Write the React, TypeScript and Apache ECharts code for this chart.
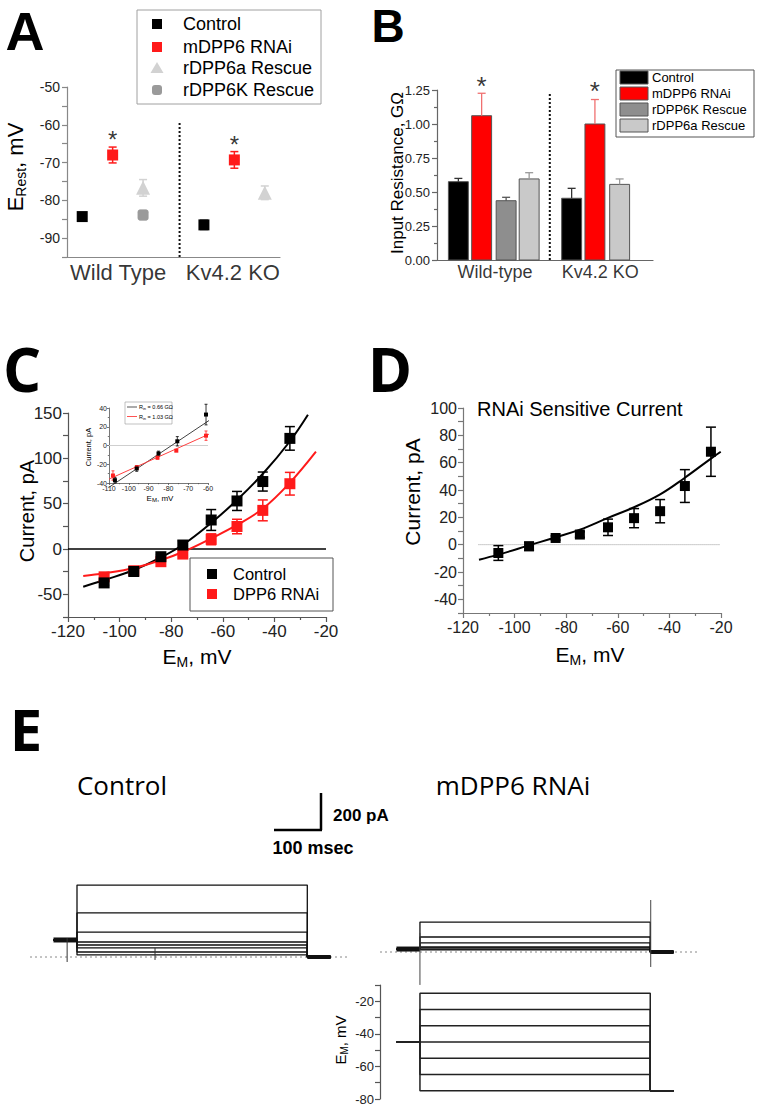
import React, { useEffect, useRef } from "react";
import * as echarts from "echarts";

const FONT = '"Liberation Sans", Arial, Helvetica, sans-serif';
const LFONT = '"Open Sans", "Liberation Sans", sans-serif';

// ---------- Panel A: resting potential ----------
const aGroups = ["Wild Type", "Kv4.2 KO"];
const aGroupX = [1.68, 5.45];
const aNames = ["Control", "mDPP6 RNAi", "rDPP6a Rescue", "rDPP6K Rescue"];
const aColors = ["#000000", "#ff1a1a", "#d2d2d2", "#9a9a9a"];
const aSymbols = ["rect", "rect", "triangle", "roundRect"];
const aX = [[0.5, 4.5], [1.5, 5.5], [2.5, 6.5], [2.5]];
const aY = [[-84.3, -86.5], [-68.0, -69.3], [-76.7, -78.0], [-83.9]];
const aErr = [[0.8, 1.2], [2.1, 2.2], [2.2, 1.8], [1.2]];
const aStarX = [1.5, 5.5];
const aStarY = [-62.7, -63.8];
const aSepX = [3.7, 3.7];
const aSepY = [-95, -59.5];

// ---------- Panel B: input resistance ----------
const bGroups = ["Wild-type", "Kv4.2 KO"];
const bGroupX = [2.42, 6.8];
const bNames = ["Control", "mDPP6 RNAi", "rDPP6K Rescue", "rDPP6a Rescue"];
const bColors = ["#000000", "#ff0000", "#8e8e8e", "#c9c9c9"];
const bErrColors = ["#333333", "#f07070", "#555555", "#9a9a9a"];
const bX = [0.89, 1.86, 2.88, 3.84, 5.61, 6.58, 7.61];
const bKind = [0, 1, 2, 3, 0, 1, 3];
const bVal = [0.576, 1.061, 0.436, 0.596, 0.454, 1.0, 0.556];
const bErr = [0.024, 0.165, 0.025, 0.046, 0.073, 0.18, 0.04];
const bStarX = [1.86, 6.58];
const bStarY = [1.316, 1.28];
const bSepX = [4.7, 4.7];
const bSepY = [0, 1.235];
const bBarW = 0.83;

// ---------- Panel C: I-V ----------
const cNames = ["Control", "DPP6 RNAi"];
const cX = [-106, -94.5, -84, -75.5, -64.5, -54.5, -44.5, -34];
const cCtrlY = [-37.4, -24.8, -8.5, 4.4, 32, 53, 74.4, 122];
const cCtrlErr = [2.5, 2.5, 2, 4.5, 11.5, 10.5, 10.5, 13];
const cRnaiY = [-30.7, -24, -14, -5.6, 10.7, 24.8, 42.6, 72];
const cRnaiErr = [3, 2, 2, 2, 6, 8, 11.5, 12.5];
const cCtrlFitX = [-114.1, -105.9, -94.4, -84.2, -75.3, -64.4, -54.5, -44.3, -34.2, -27];
const cCtrlFitY = [-41.6, -34.2, -23.2, -9.5, 5.0, 29, 54, 83.5, 118, 148];
const cRnaiFitX = [-114.1, -105.9, -94.4, -84.2, -75.3, -64.4, -54.5, -44.3, -34.2, -23.9];
const cRnaiFitY = [-29.8, -26.8, -21.0, -12.5, -3, 11.8, 26.5, 44.9, 72.5, 107.4];
const cZeroX = [-120, -20];

// inset of C
const iCtrlX = [-107, -96, -85, -75.5, -61];
const iCtrlY = [-37, -24.5, -8.5, 4.5, 33];
const iCtrlErr = [3, 3, 2.5, 5, 11];
const iRnaiX = [-108, -96, -85.5, -76, -61];
const iRnaiY = [-32, -23.5, -13, -5.5, 10.5];
const iRnaiErr = [5, 2, 1.5, 1, 5];
const iCtrlFitX = [-110.3, -59.4];
const iCtrlFitY = [-45, 26.8];
const iRnaiFitX = [-110, -59.4];
const iRnaiFitY = [-35.8, 12.2];
const iZeroX = [-110, -60];
const iLegend = ["R{s|in} = 0.66 GΩ", "R{s|in} = 1.03 GΩ"];

// ---------- Panel D: RNAi sensitive current ----------
const dTitle = "RNAi Sensitive Current";
const dX = [-106.3, -94.4, -84.1, -74.7, -63.8, -53.7, -43.6, -34, -23.9];
const dY = [-6.1, -1.2, 4.9, 7.4, 12.7, 19.4, 24.5, 42.9, 68];
const dErr = [5.4, 3, 1.5, 2, 6, 7, 8.5, 12, 18];
const dFitX = [-113.8, -106.3, -94.4, -84, -74.7, -63.8, -53.7, -43.6, -34, -23.9, -20.1];
const dFitY = [-11, -7.3, -0.5, 5.4, 11, 19.6, 27.4, 36.8, 49, 63, 68];
const dZeroX = [-114, -20.5];

// ---------- Panel E: traces ----------
const eTitles = ["Control", "mDPP6 RNAi"];
const eT = [50, 100, 590, 640]; // ms: holding start, step on, step off, tail end
const eCtrlLevels = [389, 238, 135, 81, 65, 49, 27, 11]; // pA
const eCtrlHold = 92;
const eRnaiLevels = [162, 81, 49, 27, 22, 16, 11];
const eRnaiHold = 16;
const eCtrlArtT = [79, 266];
const eCtrlArtLo = [-27, -16];
const eCtrlArtHi = [102, 49];
const eRnaiArtT = [100, 591];
const eRnaiArtLo = [-178, -81];
const eRnaiArtHi = [103, 281];
const eVLevels = [-15, -25, -35, -45, -55, -65, -75]; // mV
const eVHold = -45;
const eVEnd = -75;
const eBaseCtrl = [0, 680];
const eBaseRnai = [15, 695];

// ---------- helpers ----------
const noSplit = { show: false };

function errSeries(xi: number, xs: number[], ys: number[], lo: number[], hi: number[], color: string, cap: number, width: number, lowCap = true) {
  return {
    type: "custom",
    xAxisIndex: xi,
    yAxisIndex: xi,
    clip: false,
    silent: true,
    z: 3,
    data: xs.map((x, i) => [x, ys[i] - lo[i], ys[i] + hi[i]]),
    renderItem: (_p: any, api: any) => {
      const x = api.value(0);
      const a = api.coord([x, api.value(1)]);
      const b = api.coord([x, api.value(2)]);
      const st = { stroke: color, lineWidth: width };
      const ch: any[] = [
        { type: "line", shape: { x1: a[0], y1: a[1], x2: b[0], y2: b[1] }, style: st },
        { type: "line", shape: { x1: b[0] - cap, y1: b[1], x2: b[0] + cap, y2: b[1] }, style: st },
      ];
      if (lowCap) ch.push({ type: "line", shape: { x1: a[0] - cap, y1: a[1], x2: a[0] + cap, y2: a[1] }, style: st });
      return { type: "group", children: ch };
    },
  };
}

function lineSeries(xi: number, xs: number[], ys: number[], color: string, width: number, extra: any = {}) {
  return {
    type: "line",
    xAxisIndex: xi,
    yAxisIndex: xi,
    data: xs.map((x, i) => [x, ys[i]]),
    symbol: "none",
    showSymbol: false,
    clip: false,
    silent: true,
    lineStyle: { color, width, type: extra.type || "solid" },
    smooth: extra.smooth || false,
    z: extra.z || 2,
  };
}

function scatterSeries(xi: number, xs: number[], ys: number[], color: string, symbol: string, size: number) {
  return {
    type: "scatter",
    xAxisIndex: xi,
    yAxisIndex: xi,
    data: xs.map((x, i) => [x, ys[i]]),
    symbol,
    symbolSize: size,
    itemStyle: { color, opacity: 1 },
    clip: false,
    silent: true,
    z: 4,
  };
}

function textSeries(xi: number, xs: number[], ys: number[], texts: string[], size: number, offset: number[]) {
  return {
    type: "scatter",
    xAxisIndex: xi,
    yAxisIndex: xi,
    data: xs.map((x, i) => ({ value: [x, ys[i]], name: texts[i] })),
    symbol: "circle",
    symbolSize: 1,
    itemStyle: { color: "rgba(0,0,0,0)" },
    clip: false,
    silent: true,
    z: 5,
    label: { show: true, position: "inside", offset, formatter: "{b}", fontSize: size, fontFamily: FONT, color: "#000" },
  };
}

function txt(text: string, x: number, y: number, size: number, o: any = {}) {
  const align = o.align || "center";
  const va = o.va || "middle";
  return {
    type: "text",
    x,
    y,
    z: 100,
    rotation: o.rot || 0,
    silent: true,
    style: {
      text,
      fontSize: size,
      fontFamily: o.family || FONT,
      fontWeight: o.weight || "normal",
      fill: o.color || "#000",
      align,
      verticalAlign: va,
      textAlign: align,
      textVerticalAlign: va,
      rich: o.rich,
    },
  };
}

function subRich(big: number, small: number, shift: number) {
  return {
    a: { fontSize: big, fontFamily: FONT, fill: "#000", color: "#000" },
    b: { fontSize: small, fontFamily: FONT, fill: "#000", color: "#000", padding: [shift, 0, 0, 0] },
    s: { fontSize: small, fontFamily: FONT, fill: "#000", color: "#000", padding: [shift, 0, 0, 0] },
  };
}

function valueAxis(gi: number, min: number, max: number, interval: number | undefined, o: any = {}) {
  return {
    type: "value",
    gridIndex: gi,
    min,
    max,
    interval,
    show: o.show !== false,
    splitLine: noSplit,
    axisLine: { show: true, onZero: false, lineStyle: { color: o.lineColor || "#666", width: o.lineWidth || 1.2 } },
    axisTick: { show: o.ticks !== false, length: o.tickLen || 5, lineStyle: { color: o.lineColor || "#666", width: o.lineWidth || 1.2 } },
    minorTick: { show: !!o.minor, splitNumber: 2, length: (o.tickLen || 5) * 0.6, lineStyle: { color: o.lineColor || "#666", width: o.lineWidth || 1.2 } },
    axisLabel: {
      show: o.labels !== false,
      fontSize: o.fontSize || 14,
      fontFamily: FONT,
      color: o.labelColor || "#222",
      margin: o.margin || 7,
      formatter: o.formatter,
      hideOverlap: false,
    },
  };
}

function buildOption() {
  const series: any[] = [];

  // ---- A ----
  aNames.forEach((n, k) => {
    series.push(errSeries(0, aX[k], aY[k], aErr[k], aErr[k], aColors[k], 4, 1.5));
    series.push(scatterSeries(0, aX[k], aY[k], aColors[k], aSymbols[k], aSymbols[k] === "triangle" ? 14 : 11));
  });
  series.push(lineSeries(0, aSepX, aSepY, "#111", 2, { type: "dotted" }));
  series.push(textSeries(0, aStarX, aStarY, aStarX.map(() => "*"), 24, [0, 5]));
  series.push(textSeries(0, aGroupX, aGroupX.map(() => -95), aGroups, 22, [0, 15]));

  // ---- B ----
  series.push({
    type: "custom",
    xAxisIndex: 1,
    yAxisIndex: 1,
    clip: false,
    silent: true,
    z: 2,
    data: bX.map((x, i) => [x, bVal[i]]),
    renderItem: (p: any, api: any) => {
      const x = api.value(0);
      const v = api.value(1);
      const a = api.coord([x - bBarW / 2, 0]);
      const b = api.coord([x + bBarW / 2, v]);
      return {
        type: "rect",
        shape: { x: a[0], y: b[1], width: b[0] - a[0], height: a[1] - b[1] },
        style: { fill: bColors[bKind[p.dataIndex]], stroke: "#555", lineWidth: 1 },
      };
    },
  });
  bX.forEach((x, i) => {
    series.push(errSeries(1, [x], [bVal[i]], [0], [bErr[i]], bErrColors[bKind[i]], 4, 1.3, false));
  });
  series.push(lineSeries(1, bSepX, bSepY, "#111", 2, { type: "dotted" }));
  series.push(textSeries(1, bStarX, bStarY, bStarX.map(() => "*"), 26, [0, 5]));
  series.push(textSeries(1, bGroupX, bGroupX.map(() => 0), bGroups, 18, [0, 12]));

  // ---- C ----
  series.push(lineSeries(2, cZeroX, [0, 0], "#000", 1.5));
  series.push(lineSeries(2, cCtrlFitX, cCtrlFitY, "#000", 2, { smooth: 0.4 }));
  series.push(lineSeries(2, cRnaiFitX, cRnaiFitY, "#ff1a1a", 2, { smooth: 0.4 }));
  series.push(errSeries(2, cX, cCtrlY, cCtrlErr, cCtrlErr, "#000", 5, 1.5));
  series.push(errSeries(2, cX, cRnaiY, cRnaiErr, cRnaiErr, "#ff1a1a", 5, 1.5));
  series.push(scatterSeries(2, cX, cRnaiY, "#ff1a1a", "rect", 11));
  series.push(scatterSeries(2, cX, cCtrlY, "#000", "rect", 11));

  // ---- C inset ----
  series.push(lineSeries(3, iZeroX, [0, 0], "#cfcfcf", 1));
  series.push(lineSeries(3, iCtrlFitX, iCtrlFitY, "#444", 1));
  series.push(lineSeries(3, iRnaiFitX, iRnaiFitY, "#ff4040", 1));
  series.push(errSeries(3, iCtrlX, iCtrlY, iCtrlErr, iCtrlErr, "#000", 1.5, 0.8));
  series.push(errSeries(3, iRnaiX, iRnaiY, iRnaiErr, iRnaiErr, "#ff2020", 1.5, 0.8));
  series.push(scatterSeries(3, iRnaiX, iRnaiY, "#ff2020", "rect", 4));
  series.push(scatterSeries(3, iCtrlX, iCtrlY, "#000", "rect", 4));

  // ---- D ----
  series.push(lineSeries(4, dZeroX, [0, 0], "#999", 1, { type: "dotted" }));
  series.push(lineSeries(4, dFitX, dFitY, "#000", 2, { smooth: 0.4 }));
  series.push(errSeries(4, dX, dY, dErr, dErr, "#000", 5, 1.5));
  series.push(scatterSeries(4, dX, dY, "#000", "rect", 10));

  // ---- E control traces ----
  series.push(lineSeries(5, eBaseCtrl, [0, 0], "#888", 1, { type: [2, 3] }));
  eCtrlLevels.forEach((L) => {
    series.push(lineSeries(5, [eT[0], eT[1], eT[1], eT[2], eT[2], eT[3]], [eCtrlHold, eCtrlHold, L, L, 0, 0], "#111", 1.3));
  });
  series.push(lineSeries(5, [eT[0], eT[1]], [eCtrlHold, eCtrlHold], "#111", 5));
  series.push(lineSeries(5, [eT[2], eT[3]], [0, 0], "#111", 4));
  eCtrlArtT.forEach((t, i) => {
    series.push(lineSeries(5, [t, t], [eCtrlArtLo[i], eCtrlArtHi[i]], "#333", 1));
  });

  // ---- E RNAi traces ----
  series.push(lineSeries(6, eBaseRnai, [0, 0], "#888", 1, { type: [2, 3] }));
  eRnaiLevels.forEach((L) => {
    series.push(lineSeries(6, [eT[0], eT[1], eT[1], eT[2], eT[2], eT[3]], [eRnaiHold, eRnaiHold, L, L, 0, 0], "#111", 1.3));
  });
  series.push(lineSeries(6, [eT[0], eT[1]], [eRnaiHold, eRnaiHold], "#111", 5));
  series.push(lineSeries(6, [eT[2], eT[3]], [0, 0], "#111", 4));
  eRnaiArtT.forEach((t, i) => {
    series.push(lineSeries(6, [t, t], [eRnaiArtLo[i], eRnaiArtHi[i]], "#444", 1));
  });

  // ---- E voltage protocol ----
  eVLevels.forEach((L) => {
    series.push(lineSeries(7, [eT[0], eT[1], eT[1], eT[2], eT[2], eT[3]], [eVHold, eVHold, L, L, eVEnd, eVEnd], "#222", 1.5));
  });

  const grid = [
    { left: 67, top: 87, width: 213, height: 170 },
    { left: 437, top: 90, width: 216, height: 170 },
    { left: 68, top: 413, width: 258, height: 204 },
    { left: 109, top: 408, width: 99, height: 75 },
    { left: 463, top: 408, width: 258, height: 205 },
    { left: 30, top: 864.5, width: 320, height: 111 },
    { left: 380, top: 859.5, width: 320, height: 129.5 },
    { left: 380, top: 985, width: 320, height: 114 },
  ].map((g) => ({ ...g, containLabel: false, outerBoundsMode: "none" }));

  const xAxis = [
    valueAxis(0, 0, 7, 1, { lineColor: "#888", ticks: false, labels: false }),
    valueAxis(1, 0, 9, 1, { lineColor: "#666", ticks: false, labels: false }),
    valueAxis(2, -120, -20, 20, { lineColor: "#555", minor: true, fontSize: 17, margin: 6 }),
    valueAxis(3, -110, -60, 10, { lineColor: "#555", lineWidth: 0.8, tickLen: 2, fontSize: 7, margin: 2, minor: true }),
    valueAxis(4, -120, -20, 20, { lineColor: "#777", minor: true, fontSize: 16, margin: 6 }),
    valueAxis(5, 0, 680.85, undefined, { show: false }),
    valueAxis(6, 15, 695.85, undefined, { show: false }),
    valueAxis(7, 15, 695.85, undefined, { show: false }),
  ];
  const yAxis = [
    valueAxis(0, -95, -50, 5, { lineColor: "#888", fontSize: 14, formatter: (v: number) => (v % 10 === 0 ? String(v) : "") }),
    valueAxis(1, 0, 1.25, 0.25, { lineColor: "#666", fontSize: 13, minor: true, formatter: (v: number) => v.toFixed(2) }),
    valueAxis(2, -75, 150, 25, { lineColor: "#555", fontSize: 17, margin: 6, formatter: (v: number) => (v % 50 === 0 ? String(v) : "") }),
    valueAxis(3, -40, 40, 20, { lineColor: "#555", lineWidth: 0.8, tickLen: 2, fontSize: 7, margin: 2, minor: true }),
    valueAxis(4, -50, 100, 10, { lineColor: "#777", fontSize: 16, margin: 6, formatter: (v: number) => (v % 20 === 0 ? String(v) : "") }),
    valueAxis(5, -100, 500, undefined, { show: false }),
    valueAxis(6, -200, 500, undefined, { show: false }),
    valueAxis(7, -80, -10, 10, { lineColor: "#555", fontSize: 13, margin: 6, formatter: (v: number) => (v % 20 === 0 ? String(v) : "") }),
  ];

  const g: any[] = [];
  // panel letters
  g.push(txt("A", 25, 31, 54, { weight: "bold" }));
  g.push(txt("B", 388, 26, 46, { weight: "bold" }));
  g.push(txt("C", 22, 369, 60, { family: LFONT, weight: "bold" }));
  g.push(txt("D", 390, 369, 60, { family: LFONT, weight: "bold" }));
  g.push(txt("E", 26, 728, 58, { family: LFONT, weight: "bold" }));

  // axis titles
  g.push(txt("{a|E}{b|Rest}{a|, mV}", 15, 167, 22, { rot: Math.PI / 2, rich: subRich(22, 14, 12) }));
  g.push(txt("Input Resistance, GΩ", 397, 173, 17, { rot: Math.PI / 2 }));
  g.push(txt("Current, pA", 27, 511, 20, { rot: Math.PI / 2 }));
  g.push(txt("{a|E}{b|M}{a|, mV}", 197, 656, 21, { rich: subRich(21, 14, 12) }));
  g.push(txt("Current, pA", 88, 447, 7.5, { rot: Math.PI / 2 }));
  g.push(txt("{a|E}{b|M}{a|, mV}", 160, 498, 8, { rich: subRich(8, 6, 4) }));
  g.push(txt("Current, pA", 412, 492, 21, { rot: Math.PI / 2 }));
  g.push(txt("{a|E}{b|M}{a|, mV}", 590, 654, 21, { rich: subRich(21, 14, 12) }));
  g.push(txt(dTitle, 477, 409, 20, { align: "left" }));
  g.push(txt("{a|E}{b|M}{a|, mV}", 340, 1040, 15, { rot: Math.PI / 2, rich: subRich(15, 10, 8) }));

  // legend A
  g.push({ type: "rect", z: 90, silent: true, shape: { x: 137, y: 10, width: 184, height: 94 }, style: { fill: "#fff", stroke: "#a0a0a0", lineWidth: 1 } });
  const aRows = [24, 47, 68, 90];
  aNames.forEach((n, k) => {
    const y = aRows[k];
    if (aSymbols[k] === "triangle") {
      g.push({ type: "polygon", z: 100, silent: true, shape: { points: [[157, y - 6], [163.5, y + 5], [150.5, y + 5]] }, style: { fill: aColors[k] } });
    } else {
      g.push({ type: "rect", z: 100, silent: true, shape: { x: 152, y: y - 5, width: 10, height: 10, r: aSymbols[k] === "roundRect" ? 3 : 0 }, style: { fill: aColors[k] } });
    }
    g.push(txt(n, 183, y, 18, { align: "left" }));
  });

  // legend B
  g.push({ type: "rect", z: 90, silent: true, shape: { x: 616, y: 70, width: 138, height: 67 }, style: { fill: "#fff", stroke: "#555", lineWidth: 1 } });
  const bRows = [77.5, 93.5, 109.5, 125.5];
  bNames.forEach((n, k) => {
    const y = bRows[k];
    g.push({ type: "rect", z: 100, silent: true, shape: { x: 620, y: y - 6.5, width: 28, height: 13 }, style: { fill: bColors[k], stroke: "#555", lineWidth: 1 } });
    g.push(txt(n, 652, y, 13, { align: "left" }));
  });

  // legend C
  g.push({ type: "rect", z: 90, silent: true, shape: { x: 190, y: 558, width: 143, height: 53 }, style: { fill: "#fff", stroke: "#555", lineWidth: 1 } });
  const cRows = [574, 594];
  const cLegColors = ["#000", "#ff1a1a"];
  cNames.forEach((n, k) => {
    g.push({ type: "rect", z: 100, silent: true, shape: { x: 207, y: cRows[k] - 5, width: 10, height: 10 }, style: { fill: cLegColors[k] } });
    g.push(txt(n, 233, cRows[k], 16.5, { align: "left" }));
  });

  // inset legend
  g.push({ type: "rect", z: 90, silent: true, shape: { x: 125, y: 402, width: 47, height: 22 }, style: { fill: "#fff", stroke: "#999", lineWidth: 0.6 } });
  const iRows = [407, 416.5];
  const iLegColors = ["#444", "#ff4040"];
  iLegend.forEach((n, k) => {
    g.push({ type: "line", z: 100, silent: true, shape: { x1: 127, y1: iRows[k], x2: 137, y2: iRows[k] }, style: { stroke: iLegColors[k], lineWidth: 0.9 } });
    g.push(txt(n, 139, iRows[k], 5.5, { align: "left", rich: subRich(5.5, 4, 3) }));
  });
  // E titles
  g.push(txt(eTitles[0], 122, 785, 26, { family: LFONT }));
  g.push(txt(eTitles[1], 513, 785, 26, { family: LFONT }));
  // scale bar
  g.push({ type: "line", z: 100, silent: true, shape: { x1: 321, y1: 793, x2: 321, y2: 830 }, style: { stroke: "#000", lineWidth: 2.5 } });
  g.push({ type: "line", z: 100, silent: true, shape: { x1: 274, y1: 830, x2: 322, y2: 830 }, style: { stroke: "#000", lineWidth: 2.5 } });
  g.push(txt("200 pA", 333, 815, 17, { align: "left", weight: "bold" }));
  g.push(txt("100 msec", 313, 848, 18, { weight: "bold" }));

  return {
    animation: false,
    backgroundColor: "#ffffff",
    textStyle: { fontFamily: FONT },
    grid,
    xAxis,
    yAxis,
    series,
    graphic: { elements: g },
  };
}

export default function App() {
  const ref = useRef<HTMLDivElement | null>(null);
  useEffect(() => {
    document.body.style.margin = "0";
    if (!ref.current) return;
    const chart = echarts.init(ref.current, null, { renderer: "svg" });
    chart.setOption(buildOption() as any);
    return () => chart.dispose();
  }, []);
  return <div ref={ref} style={{ position: "absolute", left: 0, top: 0, width: 759, height: 1111 }} />;
}
